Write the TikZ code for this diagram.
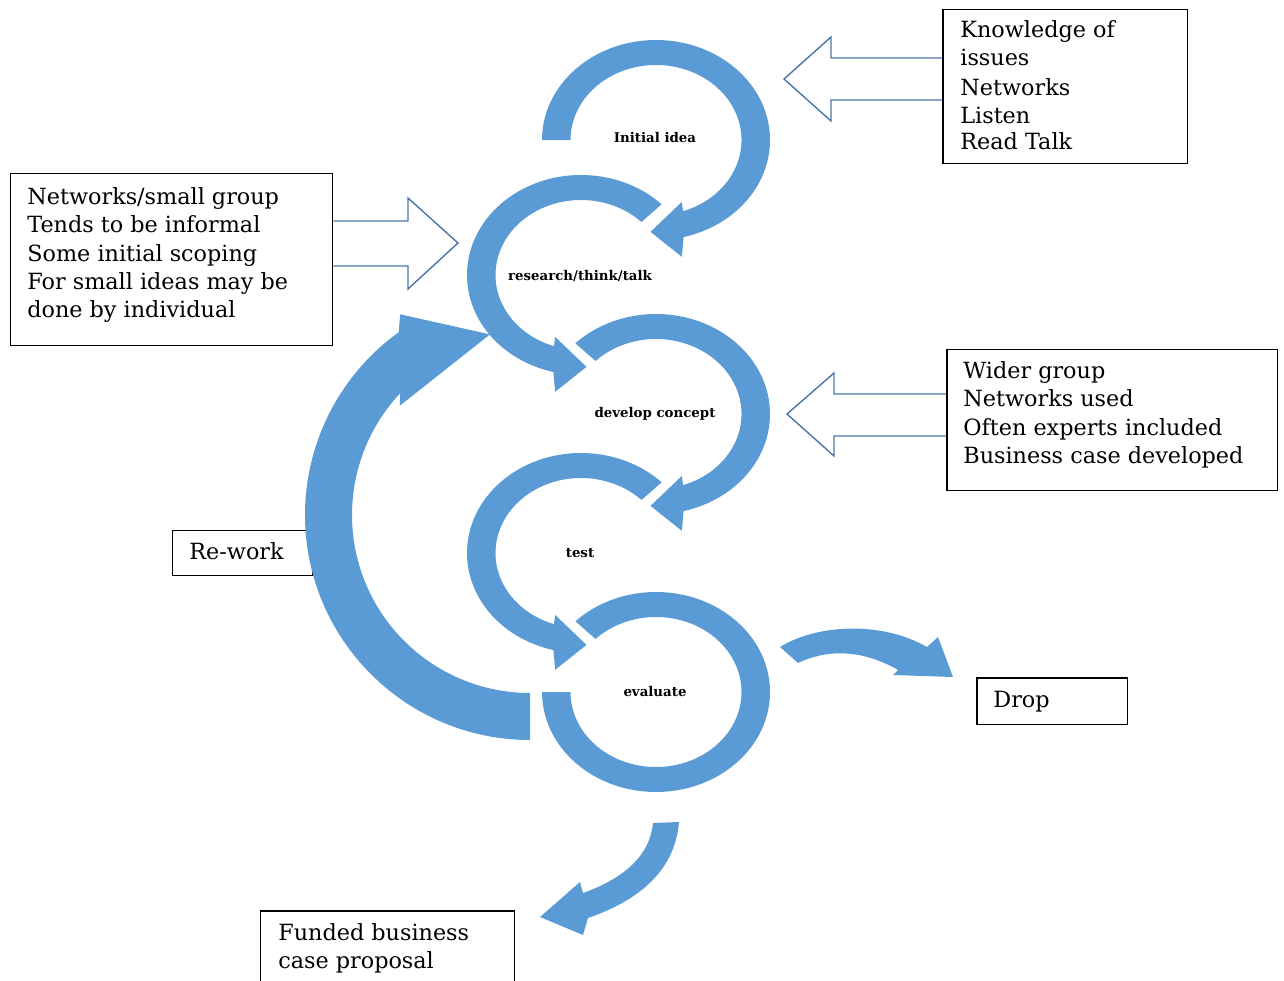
\documentclass[tikz,border=0pt]{standalone}
\usepackage{fontspec}
\setmainfont{DejaVu Serif}
\definecolor{ringblue}{HTML}{5B9BD5}
\definecolor{outl}{HTML}{4A76A8}
\begin{document}
\begin{tikzpicture}[x=0.02cm,y=-0.02cm,
  box/.style={draw=black, line width=0.85pt, fill=white, anchor=north west, inner sep=0pt},
  txt/.style={anchor=base west, inner sep=0pt, font=\fontsize{12.7}{15}\selectfont},
  lbl/.style={inner sep=0pt, font=\bfseries\fontsize{7.6}{8}\selectfont},
  ring/.style={fill=ringblue},
  hollow/.style={draw=outl, line width=0.8pt, line join=miter}]
\useasboundingbox (0,0) rectangle (1284,980);
\clip (0,0) rectangle (1284,980);

% boxes
\node[box, minimum width=4.90cm, minimum height=3.08cm] (kbox) at (942,9) {};
\node[box, minimum width=6.44cm, minimum height=3.44cm] (nbox) at (10,173) {};
\node[box, minimum width=6.62cm, minimum height=2.82cm] (wbox) at (946,349) {};
\node[box, minimum width=2.80cm, minimum height=0.90cm] (rbox) at (172,530) {};
\node[box, minimum width=3.02cm, minimum height=0.94cm] (dbox) at (976,677) {};
\node[box, minimum width=5.08cm, minimum height=1.70cm] (fbox) at (260,910) {};

% hollow block arrows
\draw[hollow] (kbox.west |- 0,58) -- (831,58) -- (831,37) -- (784,79) -- (831,121) -- (831,100) -- (kbox.west |- 0,100);
\draw[hollow] (nbox.east |- 0,221) -- (408,221) -- (408,198) -- (458,243) -- (408,289) -- (408,266) -- (nbox.east |- 0,266);
\draw[hollow] (wbox.west |- 0,394) -- (834,394) -- (834,373) -- (787,414) -- (834,456) -- (834,436) -- (wbox.west |- 0,436);

% ring centres
\coordinate (c1) at (656,140);
\coordinate (c2) at (581,275);
\coordinate (c3) at (656,414);
\coordinate (c4) at (581,553);
\coordinate (c5) at (656,692);
\coordinate (cr) at (530,515);

% ring 1 (clockwise)
\begin{scope}[shift={(c1)}, xscale=1.14, yscale=-1]
\fill[ring] (180:100) arc[start angle=180,end angle=-76,radius=100] -- (-79:119) -- (-93:92) -- (-70:66) -- (-71.5:75) arc[start angle=-71.5,end angle=180,radius=75] -- cycle;
\end{scope}
% ring 2 (counter-clockwise)
\begin{scope}[shift={(c2)}, xscale=1.14, yscale=-1]
\fill[ring] (45:100) arc[start angle=45,end angle=256,radius=100] -- (-101:119) -- (-87:92) -- (-110:66) -- (-108.5:75) arc[start angle=251.5,end angle=45,radius=75] -- cycle;
\end{scope}
% ring 3 (clockwise)
\begin{scope}[shift={(c3)}, xscale=1.14, yscale=-1]
\fill[ring] (135:100) arc[start angle=135,end angle=-76,radius=100] -- (-79:119) -- (-93:92) -- (-70:66) -- (-71.5:75) arc[start angle=-71.5,end angle=135,radius=75] -- cycle;
\end{scope}
% ring 4 (counter-clockwise)
\begin{scope}[shift={(c4)}, xscale=1.14, yscale=-1]
\fill[ring] (45:100) arc[start angle=45,end angle=256,radius=100] -- (-101:119) -- (-87:92) -- (-110:66) -- (-108.5:75) arc[start angle=251.5,end angle=45,radius=75] -- cycle;
\end{scope}
% ring 5 (clockwise, no head)
\begin{scope}[shift={(c5)}, xscale=1.14, yscale=-1]
\fill[ring] (135:100) arc[start angle=135,end angle=-180,radius=100] -- (-180:75) arc[start angle=-180,end angle=135,radius=75] -- cycle;
\end{scope}

% re-work arrow
\begin{scope}[shift={(cr)}, yscale=-1]
\fill[ring] (270:225) arc[start angle=270,end angle=125.7,radius=225] -- (122.9:239) -- (102.5:185) -- (140:170) -- (136.8:178) arc[start angle=136.8,end angle=270,radius=178] -- cycle;
\end{scope}

% drop arrow
\fill[ring] (780,647) .. controls (815,625) and (880,620) .. (927,647) -- (938,637) -- (953,677) -- (893,675) -- (898,670) .. controls (860,648) and (825,650) .. (798,663) -- cycle;

% funded arrow
\fill[ring] (653,823) -- (679,822) .. controls (675,870) and (640,900) .. (588,918) -- (583,935) -- (540,917) -- (580,882) -- (583,893) .. controls (625,878) and (650,855) .. (653,823) -- cycle;

% ring labels
\node[lbl] (l1) at (655,138) {Initial idea};
\node[lbl] (l2) at (580,276) {research/think/talk};
\node[lbl] (l3) at (655,414) {develop concept};
\node[lbl] (l4) at (580,553) {test};
\node[lbl] (l5) at (655,692) {evaluate};

% box texts
\node[txt] (k1) at (960,38) {Knowledge of};
\node[txt] (k2) at (960,66) {issues};
\node[txt] (k3) at (960,95) {Networks};
\node[txt] (k4) at (960,123) {Listen};
\node[txt] (k5) at (960,150) {Read Talk};

\node[txt] (n1) at (27,204) {Networks/small group};
\node[txt] (n2) at (27,232) {Tends to be informal};
\node[txt] (n3) at (27,261) {Some initial scoping};
\node[txt] (n4) at (27,289) {For small ideas may be};
\node[txt] (n5) at (27,317) {done by individual};

\node[txt] (w1) at (963,378) {Wider group};
\node[txt] (w2) at (963,406) {Networks used};
\node[txt] (w3) at (963,435) {Often experts included};
\node[txt] (w4) at (963,463) {Business case developed};

\node[txt] (r1) at (189,559) {Re-work};
\node[txt] (d1) at (993,707) {Drop};
\node[txt] (f1) at (278,940) {Funded business};
\node[txt] (f2) at (278,968) {case proposal};
\end{tikzpicture}
\end{document}
